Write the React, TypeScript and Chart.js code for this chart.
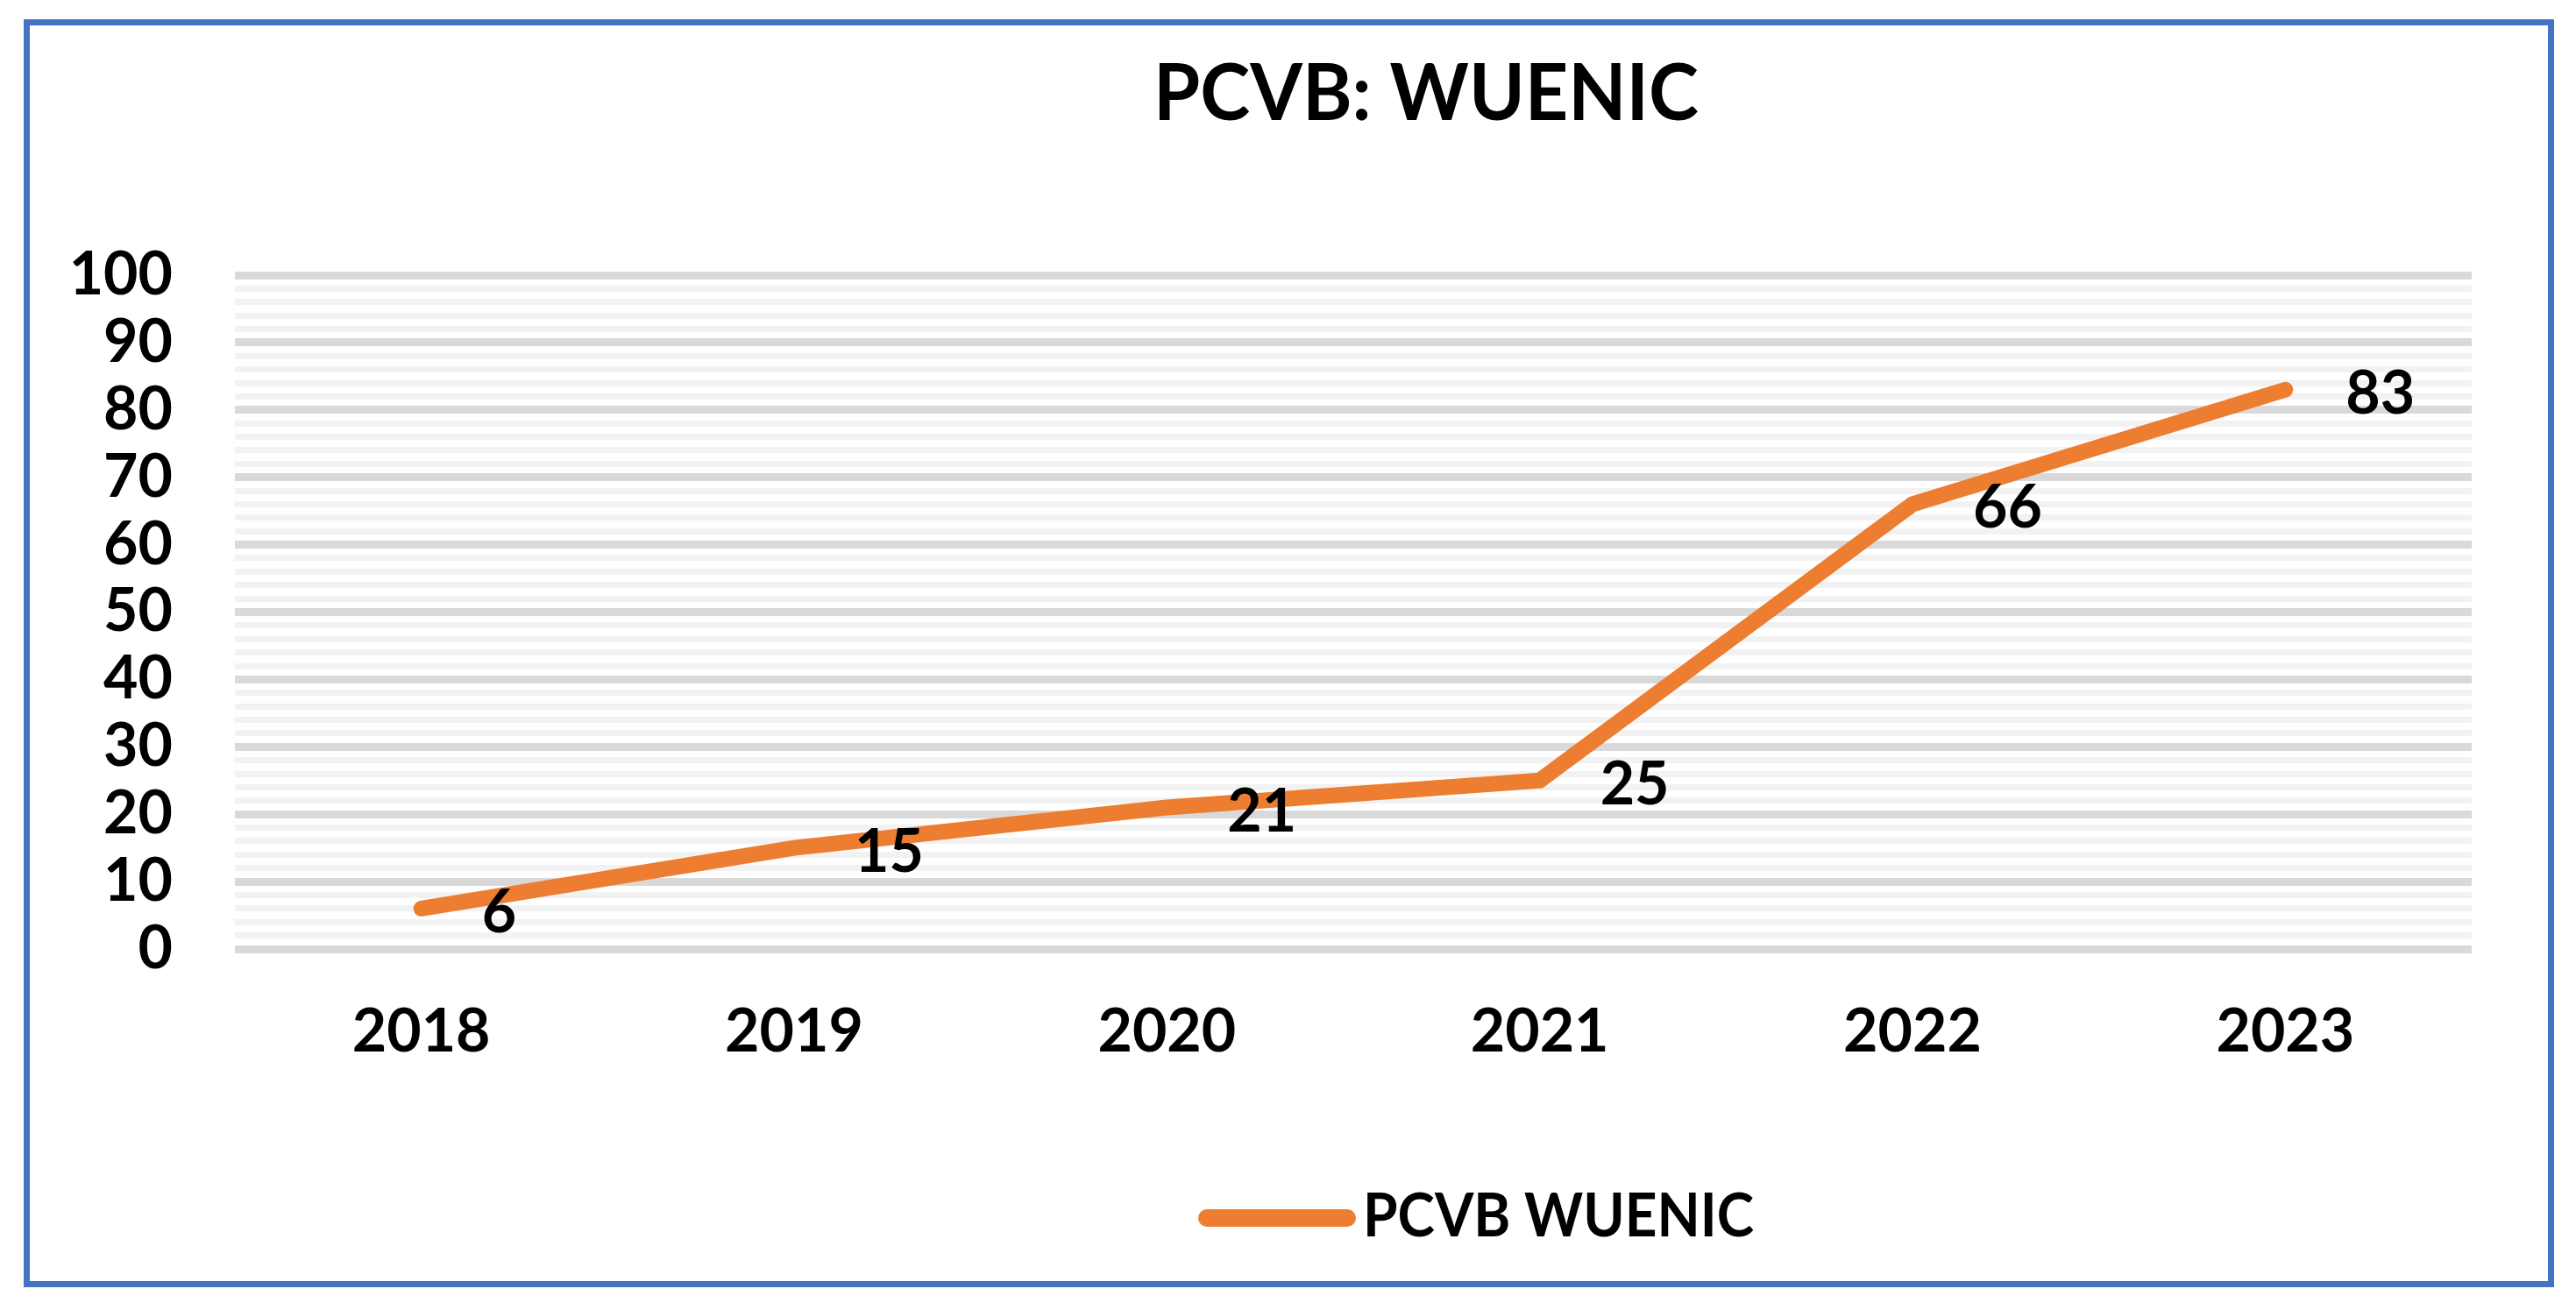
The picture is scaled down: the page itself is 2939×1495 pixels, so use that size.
import React, { useEffect, useRef } from 'react';
import { Chart, registerables } from 'chart.js';

Chart.register(...registerables);

// ---- data ----
const TITLE = 'PCVB: WUENIC';
const SERIES_LABEL = 'PCVB WUENIC';
const YEARS = ['2018', '2019', '2020', '2021', '2022', '2023'];
const VALUES = [6, 15, 21, 25, 66, 83];
const Y_MIN = 0;
const Y_MAX = 100;
const Y_MINOR_STEP = 2;
const Y_MAJOR_STEP = 10;

// ---- layout / style ----
const W = 2939;
const H = 1495;
const FONT = 'Lato, Carlito, Calibri, sans-serif';
const ORANGE = '#ed7d31';
const FRAME = '#4472c4';

function fitText(ctx: CanvasRenderingContext2D, text: string, x: number, y: number, maxW: number) {
  const w = ctx.measureText(text).width;
  const sx = w > maxW ? maxW / w : 1;
  ctx.save();
  ctx.translate(x, y);
  ctx.scale(sx, 1);
  ctx.fillText(text, 0, 0);
  ctx.restore();
}

const decor = {
  id: 'decor',
  beforeDraw(chart: any) {
    const ctx = chart.ctx;
    ctx.save();
    ctx.fillStyle = '#ffffff';
    ctx.fillRect(0, 0, W, H);
    ctx.strokeStyle = FRAME;
    ctx.lineWidth = 7;
    ctx.strokeRect(30.5, 25.5, 2880, 1440);
    ctx.restore();
  },
  afterDatasetsDraw(chart: any) {
    const ctx = chart.ctx;
    const ds = chart.data.datasets[0];
    const meta = chart.getDatasetMeta(0);
    ctx.save();
    ctx.fillStyle = '#000000';
    ctx.textBaseline = 'alphabetic';
    // data labels (right of point)
    ctx.font = `bold 68px ${FONT}`;
    ctx.textAlign = 'left';
    meta.data.forEach((pt: any, i: number) => {
      ctx.fillText(String(ds.data[i]), pt.x + 69, pt.y + 27);
    });
    // title
    ctx.font = `bold 89px ${FONT}`;
    ctx.textAlign = 'left';
    fitText(ctx, TITLE, 1316, 137, 622);
    // legend
    ctx.strokeStyle = ds.borderColor;
    ctx.lineWidth = 20;
    ctx.lineCap = 'round';
    ctx.beginPath();
    ctx.moveTo(1377, 1390);
    ctx.lineTo(1537, 1390);
    ctx.stroke();
    ctx.font = `bold 68px ${FONT}`;
    ctx.textAlign = 'left';
    fitText(ctx, ds.label, 1555, 1411, 446);
    ctx.restore();
  },
};

export default function App() {
  const ref = useRef<HTMLCanvasElement | null>(null);

  useEffect(() => {
    let chart: Chart | null = null;
    let cancelled = false;
    const tickFont = { family: FONT, size: 68, weight: 'bold' as const };

    const create = () => {
      if (cancelled || !ref.current) return;
      chart = new Chart(ref.current, {
        type: 'line',
        data: {
          labels: YEARS,
          datasets: [
            {
              label: SERIES_LABEL,
              data: VALUES,
              borderColor: ORANGE,
              backgroundColor: ORANGE,
              borderWidth: 18,
              borderCapStyle: 'round',
              borderJoinStyle: 'miter',
              pointRadius: 0,
              pointHoverRadius: 0,
              tension: 0,
              fill: false,
            },
          ],
        },
        options: {
          responsive: false,
          animation: false,
          devicePixelRatio: 1,
          layout: { padding: { left: 0, right: W - 2820, top: 314, bottom: 0 } },
          plugins: {
            legend: { display: false },
            title: { display: false },
            tooltip: { enabled: false },
          },
          scales: {
            x: {
              offset: true,
              grid: { display: false, drawTicks: false },
              border: { display: false },
              ticks: {
                color: '#000000',
                font: tickFont,
                padding: 54,
                maxRotation: 0,
                autoSkip: false,
              },
              afterFit(s: any) {
                s.height = H - 1083;
              },
            },
            y: {
              min: Y_MIN,
              max: Y_MAX,
              border: { display: false },
              grid: {
                drawTicks: false,
                color: (c: any) =>
                  c.tick && c.tick.value % Y_MAJOR_STEP === 0 ? '#d9d9d9' : '#f2f2f2',
                lineWidth: (c: any) =>
                  c.tick && c.tick.value % Y_MAJOR_STEP === 0 ? 9 : 7,
              },
              ticks: {
                stepSize: Y_MINOR_STEP,
                autoSkip: false,
                color: '#000000',
                font: tickFont,
                padding: 71,
                callback: (v: any) => (Number(v) % Y_MAJOR_STEP === 0 ? String(v) : ''),
              },
              afterFit(s: any) {
                s.width = 268;
              },
            },
          },
        },
        plugins: [decor],
      });
    };

    if ((document as any).fonts && (document as any).fonts.load) {
      Promise.all([
        (document as any).fonts.load(`bold 68px Lato`),
        (document as any).fonts.load(`bold 89px Lato`),
      ])
        .catch(() => null)
        .then(create);
    } else {
      create();
    }

    return () => {
      cancelled = true;
      if (chart) chart.destroy();
    };
  }, []);

  return (
    <div
      style={{
        position: 'fixed',
        left: 0,
        top: 0,
        width: W,
        height: H,
        background: '#ffffff',
      }}
    >
      <canvas ref={ref} width={W} height={H} style={{ display: 'block', width: W, height: H }} />
    </div>
  );
}
